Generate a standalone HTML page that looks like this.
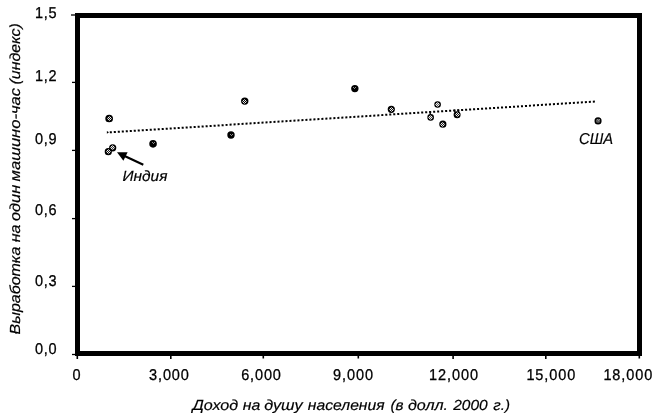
<!DOCTYPE html>
<html lang="ru">
<head>
<meta charset="utf-8">
<title>Выработка на один машино-час и доход на душу населения</title>
<style>
  html, body { margin: 0; padding: 0; background: #ffffff; }
  body { width: 659px; height: 416px; overflow: hidden; position: relative; }
  svg { position: absolute; left: 0; top: 0; display: block; }
  text { font-family: "Liberation Sans", sans-serif; fill: #000; stroke: #000; stroke-width: 0.3px; text-rendering: geometricPrecision; }
  .num { font-size: 15.6px; }
  .it { font-size: 14.6px; font-style: italic; }
  text.it, .it text { stroke-width: 0.18px; }
</style>
</head>
<body>
<svg width="659" height="416" viewBox="0 0 659 416">
  <defs>
    <g id="pt">
      <path d="M0 0h1v1h-1zM-1 -1h1v1h-1zM1 -1h1v1h-1zM-1 1h1v1h-1zM1 1h1v1h-1z" fill="#f0f0f0"/>
      <path d="M0 -2h1v1h-1zM0 2h1v1h-1zM-2 0h1v1h-1zM2 0h1v1h-1z" fill="#9a9a9a"/>
    </g>
    <g id="ptd">
      <path d="M0 0h1v1h-1zM-1 -1h1v1h-1zM1 -1h1v1h-1z" fill="#8c8c8c"/>
    </g>
  </defs>
  <rect x="0" y="0" width="659" height="416" fill="#ffffff"/>

  <!-- plot frame -->
  <rect x="77.5" y="15.5" width="562" height="338" fill="none" stroke="#000" stroke-width="5"/>

  <!-- y ticks -->
  <g stroke="#000" stroke-width="1.3">
    <line x1="71" y1="15" x2="76" y2="15"/>
    <line x1="72" y1="82.4" x2="76" y2="82.4"/>
    <line x1="72" y1="150.4" x2="76" y2="150.4"/>
    <line x1="72" y1="218.6" x2="76" y2="218.6"/>
    <line x1="72" y1="286.4" x2="76" y2="286.4"/>
    <line x1="72" y1="354.5" x2="76" y2="354.5"/>
  </g>
  <!-- x ticks -->
  <g stroke="#000" stroke-width="1.6">
    <line x1="77.3" y1="355" x2="77.3" y2="359"/>
    <line x1="170.8" y1="355" x2="170.8" y2="359"/>
    <line x1="263.3" y1="355" x2="263.3" y2="358.5"/>
    <line x1="358.3" y1="355" x2="358.3" y2="358.5"/>
    <line x1="453.1" y1="355" x2="453.1" y2="359"/>
    <line x1="545.8" y1="355" x2="545.8" y2="359"/>
    <line x1="639.3" y1="355" x2="639.3" y2="358.5"/>
  </g>

  <!-- trend line -->
  <path d="M106.9 130.9L109 132.35L106.9 133.8z" fill="#000"/>
  <line x1="109.8" y1="132.35" x2="596" y2="101.5" stroke="#000" stroke-width="2" stroke-dasharray="2.05 1.95"/>

  <!-- data points -->
  <circle cx="109.15" cy="118.5" r="2.95" fill="#1a1a1a" stroke="#000" stroke-width="1.8"/><use href="#pt" x="109" y="118"/>
  <circle cx="108.3" cy="151.7" r="2.80" fill="#1a1a1a" stroke="#000" stroke-width="1.6"/><use href="#pt" x="108" y="151"/>
  <circle cx="112.7" cy="147.8" r="2.85" fill="#444" stroke="#000" stroke-width="1.5"/><use href="#pt" x="112" y="147"/>
  <circle cx="153.05" cy="143.85" r="2.80" fill="#000" stroke="#000" stroke-width="2.0"/><use href="#ptd" x="153" y="143"/>
  <circle cx="231.0" cy="135.0" r="2.70" fill="#000" stroke="#000" stroke-width="2.0"/><use href="#ptd" x="231" y="135"/>
  <circle cx="244.75" cy="101.1" r="2.75" fill="#000" stroke="#000" stroke-width="1.9"/><use href="#pt" x="244" y="101"/>
  <circle cx="354.85" cy="88.6" r="2.70" fill="#000" stroke="#000" stroke-width="2.0"/><use href="#ptd" x="354" y="88"/>
  <circle cx="391.3" cy="109.3" r="2.80" fill="#1a1a1a" stroke="#000" stroke-width="1.6"/><use href="#pt" x="391" y="109"/>
  <circle cx="430.65" cy="117.4" r="2.65" fill="#555" stroke="#000" stroke-width="1.3"/><use href="#pt" x="430" y="117"/>
  <circle cx="437.6" cy="104.5" r="2.65" fill="#666" stroke="#000" stroke-width="1.3"/><use href="#pt" x="437" y="104"/>
  <circle cx="442.85" cy="124.2" r="2.85" fill="#222" stroke="#000" stroke-width="1.5"/><use href="#pt" x="442" y="124"/>
  <circle cx="457.1" cy="114.85" r="2.75" fill="#1a1a1a" stroke="#000" stroke-width="1.5"/><use href="#pt" x="457" y="114"/>
  <circle cx="598.05" cy="120.9" r="2.85" fill="#5a5a5a" stroke="#000" stroke-width="1.4"/><use href="#ptd" x="598" y="120"/>
  <path d="M430.2 111v3.5M454.8 109.6v3M458.6 109.6v3" stroke="#000" stroke-width="1.4" fill="none"/>

  <!-- arrow -->
  <line x1="143.3" y1="164.7" x2="123" y2="155.2" stroke="#000" stroke-width="2.2"/>
  <polygon points="117,152.3 127.6,152.2 123.4,160.8" fill="#000"/>

  <!-- y axis labels -->
  <g class="num">
    <text transform="translate(34.90 17.7) scale(0.93 1)" textLength="23.33" lengthAdjust="spacing">1,5</text>
    <text transform="translate(34.90 80.7) scale(0.93 1)" textLength="23.33" lengthAdjust="spacing">1,2</text>
    <text transform="translate(35.00 143.9) scale(0.93 1)" textLength="23.33" lengthAdjust="spacing">0,9</text>
    <text transform="translate(35.00 214.6) scale(0.93 1)" textLength="23.33" lengthAdjust="spacing">0,6</text>
    <text transform="translate(35.00 285.8) scale(0.93 1)" textLength="23.33" lengthAdjust="spacing">0,3</text>
    <text transform="translate(35.00 353.6) scale(0.93 1)" textLength="23.33" lengthAdjust="spacing">0,0</text>
  </g>
  <!-- x axis labels -->
  <g class="num">
    <text transform="translate(72.40 379.7) scale(0.93 1)">0</text>
    <text transform="translate(149.10 379.7) scale(0.93 1)" textLength="42.80" lengthAdjust="spacing">3,000</text>
    <text transform="translate(241.20 379.7) scale(0.93 1)" textLength="42.69" lengthAdjust="spacing">6,000</text>
    <text transform="translate(332.90 379.7) scale(0.93 1)" textLength="43.33" lengthAdjust="spacing">9,000</text>
    <text transform="translate(429.10 379.7) scale(0.93 1)" textLength="52.69" lengthAdjust="spacing">12,000</text>
    <text transform="translate(526.40 379.7) scale(0.93 1)" textLength="52.58" lengthAdjust="spacing">15,000</text>
    <text transform="translate(603.40 379.7) scale(0.93 1)" textLength="52.58" lengthAdjust="spacing">18,000</text>
  </g>

  <!-- annotations -->
  <text class="it" style="font-size:14.9px" x="122.5" y="180.8" textLength="44.9" lengthAdjust="spacingAndGlyphs">Индия</text>
  <text class="it" style="font-size:15.7px" x="579" y="143.7" textLength="34" lengthAdjust="spacingAndGlyphs">США</text>

  <!-- axis titles -->
  <g class="it">
    <text y="409.7"><tspan x="192.50" textLength="45.70" lengthAdjust="spacingAndGlyphs">Доход</tspan> <tspan x="242.75" textLength="17.55" lengthAdjust="spacingAndGlyphs">на</tspan> <tspan x="264.20" textLength="38.55" lengthAdjust="spacingAndGlyphs">душу</tspan> <tspan x="307.85" textLength="76.80" lengthAdjust="spacingAndGlyphs">населения</tspan> <tspan x="390.50" textLength="13.10" lengthAdjust="spacingAndGlyphs">(в</tspan> <tspan x="407.90" textLength="40.20" lengthAdjust="spacingAndGlyphs">долл.</tspan> <tspan x="453.25" textLength="34.45" lengthAdjust="spacingAndGlyphs">2000</tspan> <tspan x="493.25" textLength="16.70" lengthAdjust="spacingAndGlyphs">г.)</tspan></text>
  </g>
  <g class="it">
    <text transform="translate(19.5 334) rotate(-90)"><tspan x="-0.50" textLength="87.80" lengthAdjust="spacingAndGlyphs">Выработка</tspan> <tspan x="91.65" textLength="17.75" lengthAdjust="spacingAndGlyphs">на</tspan> <tspan x="112.95" textLength="36.30" lengthAdjust="spacingAndGlyphs">один</tspan> <tspan x="152.60" textLength="93.40" lengthAdjust="spacingAndGlyphs">машино-час</tspan> <tspan x="249.50" textLength="61.25" lengthAdjust="spacingAndGlyphs">(индекс)</tspan></text>
  </g>
</svg>
</body>
</html>
